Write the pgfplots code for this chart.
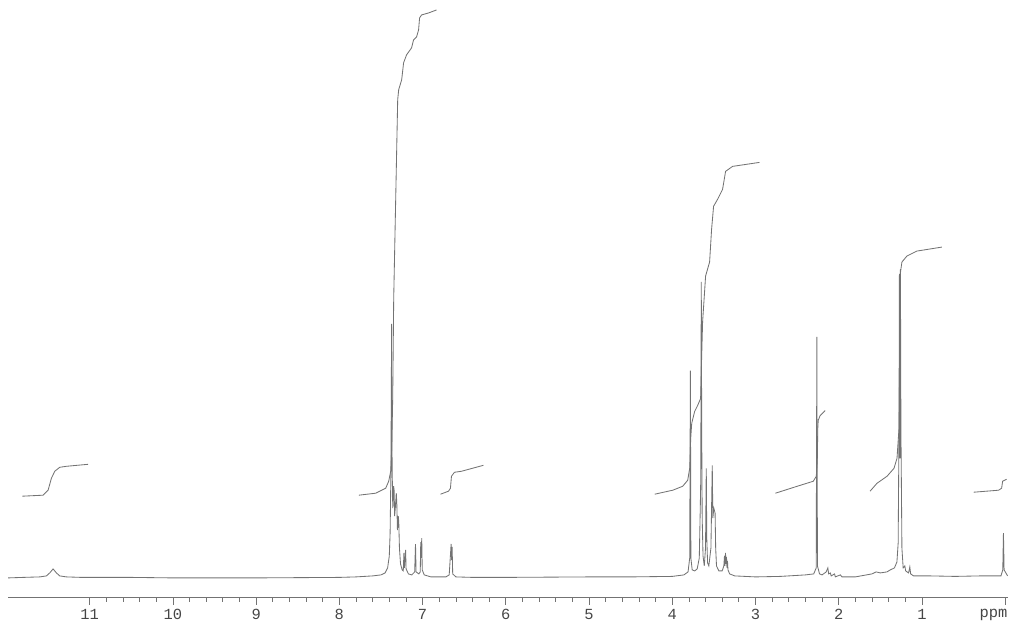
\documentclass[border=0pt]{standalone}
\usepackage{pgfplots}
\pgfplotsset{compat=1.18}
\usepackage{fontspec}
\setmainfont{Liberation Mono}
\setmonofont{Liberation Mono}
\definecolor{ink}{RGB}{115,115,115}
\definecolor{txt}{RGB}{70,70,70}

% 1H NMR spectrum, heights in px above baseline
\pgfplotstableread{
ppm h
11.98 0
11.80 0.5
11.60 1
11.52 2
11.48 5
11.44 9
11.40 5
11.36 2
11.28 1
11.10 0.5
10.50 0.5
10.00 0
9.00 0
8.00 0.5
7.80 1
7.60 2
7.50 3
7.45 5
7.42 10
7.40 22
7.39 45
7.38 110
7.372 255
7.366 110
7.358 70
7.348 92
7.342 88
7.336 62
7.326 72
7.316 85
7.310 76
7.302 48
7.292 62
7.286 56
7.278 30
7.265 14
7.245 8
7.232 7
7.224 25
7.218 10
7.204 28
7.198 9
7.17 4
7.13 3
7.095 6
7.085 34
7.078 6
7.045 4
7.028 6
7.022 36
7.016 20
7.010 40
7.004 8
6.98 3
6.90 1
6.72 1
6.68 3
6.657 34
6.651 18
6.645 31
6.638 4
6.60 1
6.40 0.5
6.00 0.5
5.00 1
4.50 1
4.00 1.5
3.86 3
3.81 6
3.79 20
3.782 208
3.776 20
3.76 8
3.73 7
3.70 9
3.675 20
3.663 70
3.657 100
3.651 297
3.646 150
3.640 60
3.630 22
3.615 12
3.600 30
3.591 110
3.585 40
3.575 15
3.56 12
3.535 30
3.519 113
3.512 60
3.500 70
3.485 65
3.478 30
3.468 12
3.44 7
3.40 7
3.38 12
3.372 22
3.366 12
3.360 25
3.354 14
3.348 21
3.342 10
3.336 17
3.330 8
3.31 4
3.25 2
3.00 1
2.70 1.5
2.40 3
2.30 4
2.27 10
2.262 242
2.255 12
2.23 4
2.20 3
2.15 6
2.13 10
2.12 4
2.10 5
2.09 2
2.05 4
2.04 1
1.98 3
1.96 1
1.80 1
1.60 4
1.55 6
1.50 5
1.42 6
1.38 8
1.33 10
1.30 16
1.285 35
1.275 150
1.270 305
1.265 120
1.258 310
1.252 150
1.24 30
1.225 10
1.205 12
1.195 7
1.16 5
1.145 11
1.135 4
1.10 2
0.90 2
0.60 1.5
0.30 2
0.05 2
0.028 8
0.020 45
0.012 8
-0.03 2
}\spectrum

\begin{document}
\begin{tikzpicture}
\begin{axis}[
  x=2.0875cm, y=0.025cm,
  x dir=reverse,
  xmin=-0.03, xmax=11.98,
  ymin=-20, ymax=580,
  axis x line=bottom, axis y line=none,
  axis line style={ink, line width=0.5pt, -},
  xtick={1,...,11},
  xticklabels={1,2,3,4,5,6,7,8,9,10,11},
  extra x ticks={0}, extra x tick labels={},
  minor x tick num=4,
  tick align=outside,
  major tick length=0.17cm, minor tick length=0.1cm,
  tick style={ink, line width=0.5pt},
  xticklabel style={font=\fontsize{11}{11}\selectfont, text=txt},
  clip=false,
]
\addplot[ink, line width=0.6pt] table[x=ppm, y=h] {\spectrum};

% integral traces
\addplot[ink, line width=0.6pt] coordinates {
(11.81,82) (11.56,83) (11.50,88) (11.46,100) (11.42,107) (11.36,111) (11.28,112) (11.02,114)};
\addplot[ink, line width=0.6pt] coordinates {
(7.766,83) (7.563,85) (7.443,90) (7.407,97) (7.383,107) (7.371,130) (7.359,180)
(7.353,230) (7.347,280) (7.329,355) (7.311,430) (7.299,480) (7.287,490) (7.251,500)
(7.228,517) (7.192,525) (7.132,532) (7.108,540) (7.072,543) (7.048,550) (7.036,562)
(7.012,565) (6.928,567) (6.832,570)};
\addplot[ink, line width=0.6pt] coordinates {
(6.784,84) (6.689,87) (6.665,90) (6.653,102) (6.617,106) (6.533,107) (6.269,113)};
\addplot[ink, line width=0.6pt] coordinates {
(4.210,84) (3.994,88) (3.874,92) (3.814,98) (3.790,110) (3.778,140) (3.766,155)
(3.731,167) (3.695,173) (3.659,180) (3.647,220) (3.635,257) (3.599,303) (3.551,317)
(3.527,350) (3.503,373) (3.455,380) (3.395,390) (3.359,408) (3.275,413) (2.952,417)};
\addplot[ink, line width=0.6pt] coordinates {
(2.760,85) (2.497,92) (2.305,97) (2.269,102) (2.257,117) (2.251,150) (2.246,158)
(2.222,163) (2.162,168)};
\addplot[ink, line width=0.6pt] coordinates {
(1.623,87) (1.539,95) (1.419,102) (1.335,110) (1.299,120) (1.275,150) (1.263,250)
(1.257,307) (1.240,317) (1.180,323) (1.060,328) (0.760,332)};
\addplot[ink, line width=0.6pt] coordinates {
(0.377,86) (0.078,88) (0.042,90) (0.030,97) (-0.018,99)};

\node[font=\fontsize{11}{11}\selectfont, text=txt, anchor=base] at (axis cs:0.14,-40) {ppm};
\path (axis cs:12.078,-45) rectangle (axis cs:-0.042,580);
\end{axis}
\end{tikzpicture}
\end{document}
